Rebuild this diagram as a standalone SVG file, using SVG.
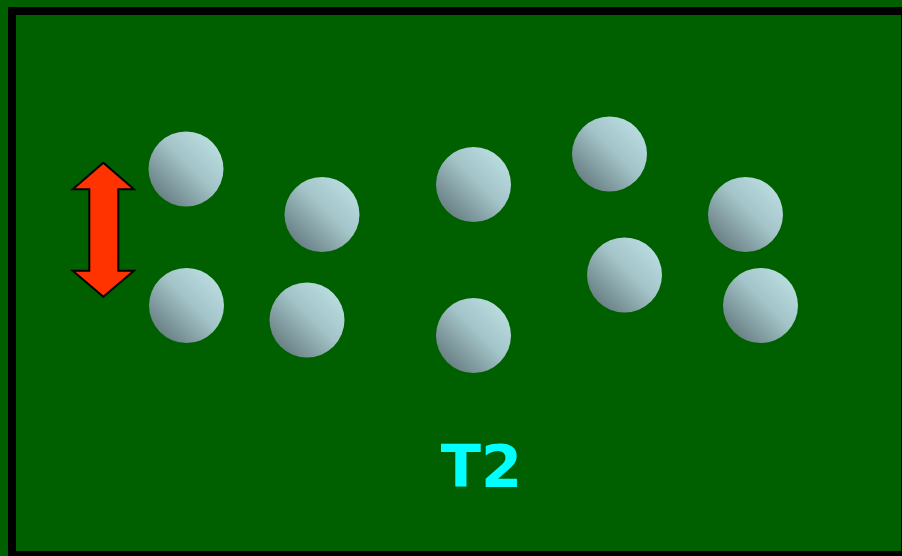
<svg xmlns="http://www.w3.org/2000/svg" width="902" height="556" viewBox="0 0 902 556">
  <defs>
    <linearGradient id="ball" x1="1" y1="0" x2="0" y2="1">
      <stop offset="0" stop-color="#c2e6e9"/>
      <stop offset="0.45" stop-color="#a3c4c8"/>
      <stop offset="1" stop-color="#56696e"/>
    </linearGradient>
    <style>
      .ball { fill: url(#ball); }
      .label { font-family: "DejaVu Sans", "Liberation Sans", sans-serif; font-weight: bold; fill: #00ffff; }
    </style>
  </defs>
  <rect x="0" y="0" width="902" height="556" fill="#006000"/>
  <rect id="frame" x="12" y="11" width="893" height="544" fill="#006000" stroke="#000000" stroke-width="8"/>

  <g id="arrow">
    <polygon points="103.3,162.7 134,189.3 118.3,189.3 118.3,270.7 134,270.7 103.3,296.7 72.7,270.7 89.3,270.7 89.3,189.3 72.7,189.3" fill="#ff3300" stroke="#000000" stroke-width="2" stroke-linejoin="miter"/>
  </g>

  <g id="balls">
    <circle id="b1" class="ball" cx="186" cy="169" r="37.5"/>
    <circle id="b2" class="ball" cx="322" cy="214.5" r="37.5"/>
    <circle id="b3" class="ball" cx="473.5" cy="184.5" r="37.5"/>
    <circle id="b4" class="ball" cx="609.5" cy="154" r="37.5"/>
    <circle id="b5" class="ball" cx="745.5" cy="214.5" r="37.5"/>
    <circle id="b6" class="ball" cx="186.5" cy="305.5" r="37.5"/>
    <circle id="b7" class="ball" cx="307" cy="320" r="37.5"/>
    <circle id="b8" class="ball" cx="473.5" cy="335.5" r="37.5"/>
    <circle id="b9" class="ball" cx="624.5" cy="275" r="37.5"/>
    <circle id="b10" class="ball" cx="760.5" cy="305.5" r="37.5"/>
  </g>

  <g id="caption">
    <text class="label" x="481.5" y="486.5" font-size="59" text-anchor="middle">T2</text>
  </g>
</svg>
